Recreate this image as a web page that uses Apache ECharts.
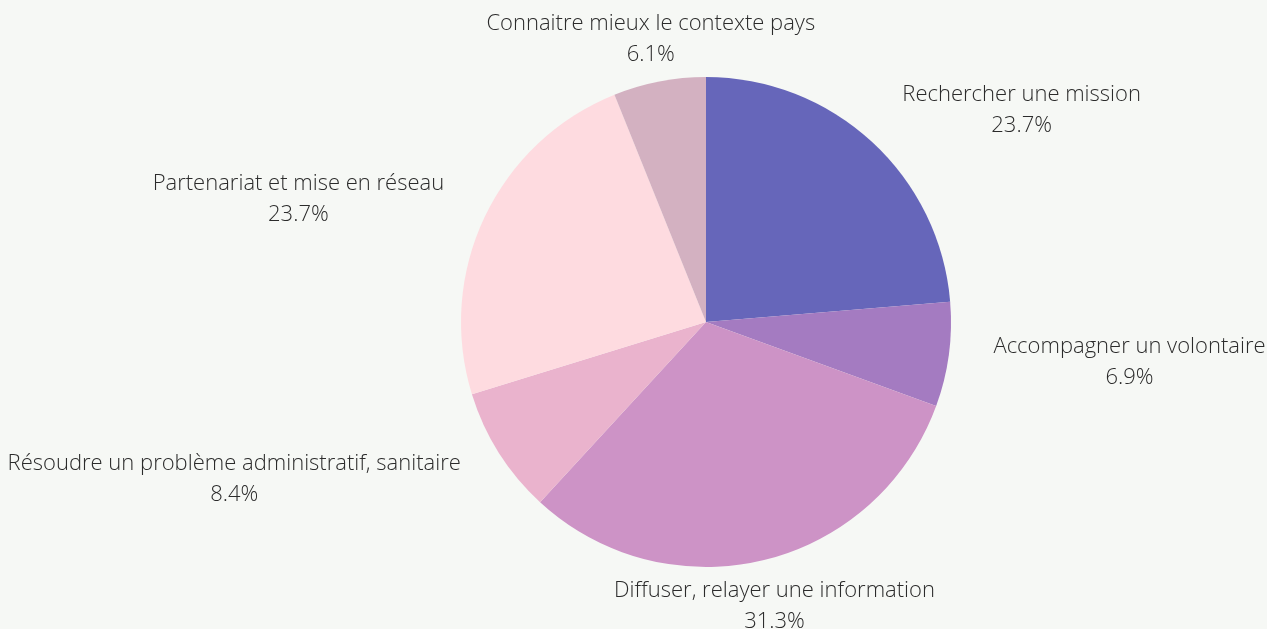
<!DOCTYPE html>
<html>
<head>
<meta charset="utf-8">
<script src="https://cdn.jsdelivr.net/npm/echarts@6/dist/echarts.min.js"></script>
<style>
  html, body { margin: 0; padding: 0; background: #f6f8f5; }
  #pieChart { width: 1267px; height: 629px; }
</style>
</head>
<body>
<div id="pieChart"></div>
<script>
var categories = [
    'Rechercher une mission',
    'Accompagner un volontaire',
    'Diffuser, relayer une information',
    'Résoudre un problème administratif, sanitaire',
    'Partenariat et mise en réseau',
    'Connaitre mieux le contexte pays'
]
var shares = [23.7, 6.9, 31.3, 8.4, 23.7, 6.1]
var colors = ['#6666ba', '#a47bc1', '#cd93c6', '#eab3cd', '#fedbe0', '#d3b1c1']

var cx = 706, cy = 322, radius = 245, labelGap = 45

var total = shares.reduce(function (a, b) { return a + b }, 0)

// mid angle of each slice, clockwise from the top
function midAngle(idx) {
    var before = 0
    for (var i = 0; i < idx; i++) before += shares[i]
    return (before + shares[idx] / 2) / total * Math.PI * 2
}

var dom = document.getElementById('pieChart')
var myChart = echarts.init(dom)
var option = {
    backgroundColor: '#f6f8f5',
    color: colors,
    series: [{
        type: 'pie',
        center: [cx, cy],
        radius: radius,
        startAngle: 90,
        clockwise: true,
        silent: true,
        itemStyle: { borderWidth: 0 },
        label: {
            show: true,
            position: 'outside',
            formatter: function (p) { return p.name + '\n' + p.value + '%' },
            fontFamily: 'Open Sans',
            fontWeight: 300,
            fontSize: 22,
            lineHeight: 31,
            color: '#2b2b2b',
            align: 'center',
            overflow: 'none'
        },
        labelLine: { show: false },
        labelLayout: function (params) {
            var a = midAngle(params.dataIndex)
            var s = Math.sin(a), c = Math.cos(a)
            var r = radius + labelGap
            var w = params.labelRect.width
            var x = cx + r * s
            if (Math.abs(s) >= 0.3) x += (s > 0 ? 1 : -1) * w / 2
            return {
                x: x,
                y: cy - r * c + 2,
                align: 'center',
                verticalAlign: 'middle'
            }
        },
        data: categories.map(function (name, i) {
            return { name: name, value: shares[i] }
        })
    }]
}
myChart.setOption(option, true)
</script>
</body>
</html>
